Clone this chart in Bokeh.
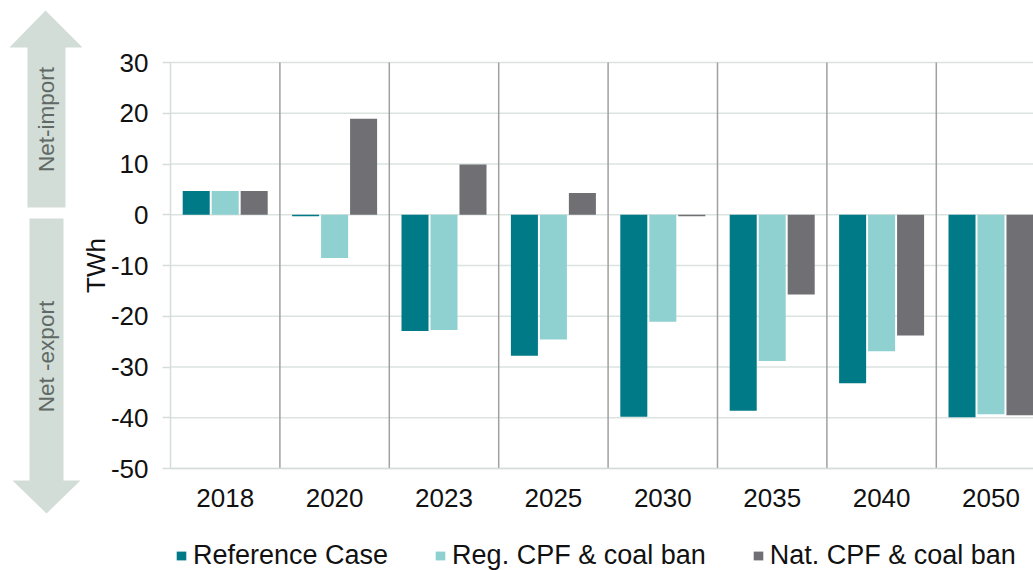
from math import pi
from bokeh.plotting import figure
from bokeh.models import (ColumnDataSource, Range1d, FixedTicker, Legend, LegendItem,
                          LinearAxis)
from bokeh.transform import dodge
from bokeh.core.properties import value
from bokeh.embed import file_html
from bokeh.resources import INLINE

categories = ["2018", "2020", "2023", "2025", "2030", "2035", "2040", "2050"]
reference_case = [4.7, -0.3, -22.9, -27.8, -39.8, -38.6, -33.2, -39.9]
reg_cpf_coal_ban = [4.7, -8.5, -22.7, -24.6, -21.1, -28.8, -26.9, -39.3]
nat_cpf_coal_ban = [4.7, 18.9, 9.9, 4.3, -0.3, -15.7, -23.8, -39.5]
y_ticks = [-50, -40, -30, -20, -10, 0, 10, 20, 30]
series_names = ["Reference Case", "Reg. CPF & coal ban", "Nat. CPF & coal ban"]
series_colors = ["#007A87", "#8FD1D1", "#6F6F74"]
arrow_labels = ["Net-import", "Net -export"]

FONT = "Liberation Sans"
TXT = "#111111"
LIGHT = "#d6ddd9"

W, H = 1033, 570
# data frame: x 0 -> page 170, 109.4 px per category; y 30 -> page 62, -50 -> page 468
PX_X = 109.4
PX_Y = 406 / 80.0
x0_page, y30_page = 170, 62
x_start = (0 - x0_page) / PX_X
x_end = (W - x0_page) / PX_X
y_end = 30 + (y30_page - 0) / PX_Y
y_start = 30 - (H - y30_page) / PX_Y

pos = [i + 0.5 for i in range(len(categories))]
src = ColumnDataSource(dict(pos=pos, ref=reference_case, reg=reg_cpf_coal_ban, nat=nat_cpf_coal_ban))

p = figure(width=W, height=H,
           x_range=Range1d(x_start, x_end), y_range=Range1d(y_start, y_end),
           x_axis_type=None, y_axis_type=None,
           output_backend="svg", toolbar_location=None, min_border=0)
p.outline_line_color = None
p.background_fill_color = "white"
p.border_fill_color = "white"
p.grid.visible = False

# page-pixel ranges for the decorative arrows
p.extra_x_ranges = {"px": Range1d(0, W)}
p.extra_y_ranges = {"px": Range1d(H, 0)}

# gridlines (from tick values) and category separators
n = len(categories)
p.segment(x0=[0] * len(y_ticks), x1=[n] * len(y_ticks), y0=y_ticks, y1=y_ticks,
          line_color="#dbe3df", line_width=1.5)
p.segment(x0=list(range(1, n)), x1=list(range(1, n)), y0=[y_ticks[0]] * (n - 1),
          y1=[y_ticks[-1]] * (n - 1), line_color="#a0a0a0", line_width=1.5)

bw = 0.247
off = 0.265
r1 = p.vbar(x=dodge("pos", -off, range=p.x_range), top="ref", bottom=0, width=bw, source=src,
            fill_color=series_colors[0], line_color=None)
r2 = p.vbar(x=dodge("pos", 0, range=p.x_range), top="reg", bottom=0, width=bw, source=src,
            fill_color=series_colors[1], line_color=None)
r3 = p.vbar(x=dodge("pos", off, range=p.x_range), top="nat", bottom=0, width=bw, source=src,
            fill_color=series_colors[2], line_color=None)

# axes at fixed locations
yaxis = LinearAxis(fixed_location=0, bounds=(y_ticks[0], y_ticks[-1]),
                   ticker=FixedTicker(ticks=y_ticks),
                   major_label_overrides={t: str(t) for t in y_ticks})
yaxis.major_tick_out = 8
yaxis.major_tick_in = 0
yaxis.major_tick_line_color = LIGHT
yaxis.major_tick_line_width = 1.5
yaxis.minor_tick_line_color = None
yaxis.axis_line_color = LIGHT
yaxis.axis_line_width = 1.5
yaxis.major_label_standoff = 14
yaxis.major_label_text_font = FONT
yaxis.major_label_text_font_size = "26px"
yaxis.major_label_text_color = TXT
yaxis.axis_label = "TWh"
yaxis.axis_label_standoff = -3
yaxis.axis_label_text_font = FONT
yaxis.axis_label_text_font_size = "26px"
yaxis.axis_label_text_font_style = "normal"
yaxis.axis_label_text_color = TXT
p.add_layout(yaxis, "left")

xaxis = LinearAxis(fixed_location=y_ticks[0], bounds=(0, n),
                   ticker=FixedTicker(ticks=pos),
                   major_label_overrides={x: c for x, c in zip(pos, categories)})
xaxis.major_tick_out = 0
xaxis.major_tick_in = 0
xaxis.minor_tick_line_color = None
xaxis.axis_line_color = LIGHT
xaxis.axis_line_width = 1.5
xaxis.major_label_standoff = 20
xaxis.major_label_text_font = FONT
xaxis.major_label_text_font_size = "26px"
xaxis.major_label_text_color = TXT
p.add_layout(xaxis, "below")

legend = Legend(items=[LegendItem(label=series_names[0], renderers=[r1]),
                       LegendItem(label=series_names[1], renderers=[r2]),
                       LegendItem(label=series_names[2], renderers=[r3])],
                orientation="horizontal", location=(175, -1),
                glyph_width=12, glyph_height=11, label_standoff=6, spacing=46,
                padding=0, margin=0, border_line_color=None, background_fill_alpha=0,
                label_text_font=FONT, label_text_font_size="27px", label_text_color=TXT)
p.add_layout(legend)

# left double arrow (page-pixel coordinates)
arrow_color = "#D3DDD7"
p.patch(x=[45, 82, 65, 65, 27, 27, 9], y=[10, 47, 47, 207, 207, 47, 47],
        fill_color=arrow_color, line_color=None, x_range_name="px", y_range_name="px")
p.patch(x=[29, 63, 63, 80, 46, 12, 29], y=[218, 218, 480, 480, 513, 480, 480],
        fill_color=arrow_color, line_color=None, x_range_name="px", y_range_name="px")
p.text(x=[46, 46], y=[119, 356], text=arrow_labels, angle=pi / 2,
       text_align="center", text_baseline="middle", text_font=value(FONT),
       text_font_size="22.5px", text_color="#5f6965", x_range_name="px", y_range_name="px")

open("out.html", "w").write(file_html(p, INLINE))
